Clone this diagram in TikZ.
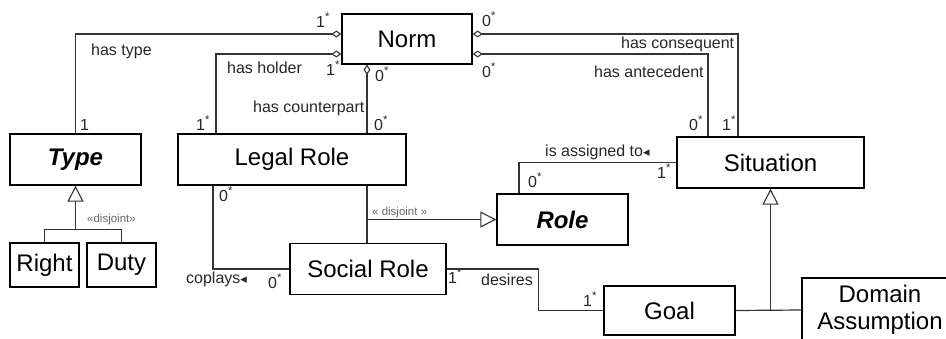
\documentclass[tikz,border=0pt]{standalone}
\usepackage{fontspec}
\setmainfont{Liberation Sans}
\newfontfamily\symfont{DejaVu Sans}
\usetikzlibrary{arrows.meta}

\newcommand{\mlt}[1]{#1\textsuperscript{*}}
\newcommand{\lft}{{\symfont\fontsize{13}{13}\selectfont ◂}}

\begin{document}
\begin{tikzpicture}[x=1pt,y=-1pt,
    cls/.style={draw=black,line width=1.3pt,fill=white,inner sep=0pt,
      font=\fontsize{24}{27}\selectfont},
    abstr/.style={cls,font=\fontsize{24}{27}\selectfont\bfseries\itshape},
    lbl/.style={anchor=base west,inner sep=0pt,text=black!85,
      font=\fontsize{16}{18}\selectfont},
    stereo/.style={anchor=base west,inner sep=0pt,text=black!60,
      font=\fontsize{11.5}{12}\selectfont},
    assoc/.style={draw=black!80,line width=1.2pt},
    agg/.style={assoc,{Diamond[open,length=10pt,width=7pt,line width=1.1pt]}-},
    gen/.style={assoc,-{Triangle[open,length=16pt,width=16pt,line width=1.1pt]}}]
  \useasboundingbox (0,0) rectangle (946,338);

  % classes
  \node[cls,minimum width=130pt,minimum height=50pt] (norm) at (407,39) {Norm};
  \node[abstr,minimum width=131pt,minimum height=51pt] (type) at (75.5,159.5) {Type};
  \node[cls,minimum width=228pt,minimum height=51pt] (legal) at (292,159.5) {Legal Role};
  \node[cls,minimum width=69pt,minimum height=44pt] (right) at (44.5,265) {Right};
  \node[cls,minimum width=69pt,minimum height=44pt] (duty) at (121.5,265) {Duty};
  \node[cls,minimum width=156pt,minimum height=51pt] (social) at (368,269) {Social Role};
  \node[abstr,minimum width=131pt,minimum height=51pt] (role) at (562.5,219.5) {Role};
  \node[cls,minimum width=187pt,minimum height=51pt] (situation) at (770.5,162.5) {Situation};
  \node[cls,minimum width=131pt,minimum height=49pt] (goal) at (669.5,310.5) {Goal};
  \node[cls,minimum width=156pt,minimum height=64pt,align=center,
    font=\fontsize{24}{27}\selectfont] (domain) at (880,310) {Domain\\Assumption};

  % associations of Norm
  \draw[agg] ([yshift=5pt]norm.west) -| (type.north);
  \draw[agg] ([yshift=-15pt]norm.west) -| ([xshift=-76pt]legal.north);
  \draw[agg] ([xshift=-40pt]norm.south) -- ([xshift=75pt]legal.north);
  \draw[agg] ([yshift=5pt]norm.east) -| ([xshift=-32.5pt]situation.north);
  \draw[agg] ([yshift=-15pt]norm.east) -| ([xshift=-62.5pt]situation.north);

  % other associations
  \draw[assoc] ([xshift=-79pt]legal.south) |- (social.west);
  \draw[assoc] ([xshift=75pt]legal.south) -- ([xshift=-1pt]social.north);
  \draw[assoc] ([xshift=-43.5pt]role.north) |- (situation.west);
  \draw[assoc] (social.east) -- ++(92,0) |- (goal.west);

  % generalizations
  \coordinate (tbar) at ([yshift=-44pt]type.south);
  \draw[gen] (tbar) -- (type.south);
  \draw[assoc] (right.north) |- (tbar) -| (duty.north);
  \coordinate (dj) at ([xshift=75pt]legal.south |- role.west);
  \draw[gen] (dj) -- (role.west);
  \coordinate (gbar) at (goal.east -| situation.south);
  \draw[assoc] (goal.east) -- (domain.west);
  \draw[gen] (gbar) -- (situation.south);

  % labels
  \node[lbl] (m1) at (316,27) {\mlt{1}};
  \node[lbl] (l1) at (91,55) {has type};
  \node[lbl] (m2) at (80,130) {1};
  \node[lbl] (l2) at (227,73) {has holder};
  \node[lbl] (m3) at (326,75) {\mlt{1}};
  \node[lbl] (m4) at (375,81) {\mlt{0}};
  \node[lbl] (l3) at (253,112) {has counterpart};
  \node[lbl] (m5) at (196,130) {\mlt{1}};
  \node[lbl] (m6) at (374,130) {\mlt{0}};
  \node[lbl] (m7) at (482,26) {\mlt{0}};
  \node[lbl] (l4) at (621,48) {has consequent};
  \node[lbl] (m8) at (482,77) {\mlt{0}};
  \node[lbl] (l5) at (594,77) {has antecedent};
  \node[lbl] (m9) at (689,130) {\mlt{0}};
  \node[lbl] (m10) at (722,130) {\mlt{1}};
  \node[lbl] (l6) at (545,156) {is assigned to\lft};
  \node[lbl] (m11) at (657,178) {\mlt{1}};
  \node[lbl] (m12) at (528,187) {\mlt{0}};
  \node[lbl] (m13) at (219,201) {\mlt{0}};
  \node[lbl] (l7) at (186,283) {coplays\lft};
  \node[lbl] (m14) at (268,288) {\mlt{0}};
  \node[lbl] (m15) at (448,283) {\mlt{1}};
  \node[lbl] (l8) at (481,285) {desires};
  \node[lbl] (m16) at (583,306) {\mlt{1}};
  \node[stereo] (s1) at (87,222) {«disjoint»};
  \node[stereo] (s2) at (372,215) {« disjoint »};
\end{tikzpicture}
\end{document}
